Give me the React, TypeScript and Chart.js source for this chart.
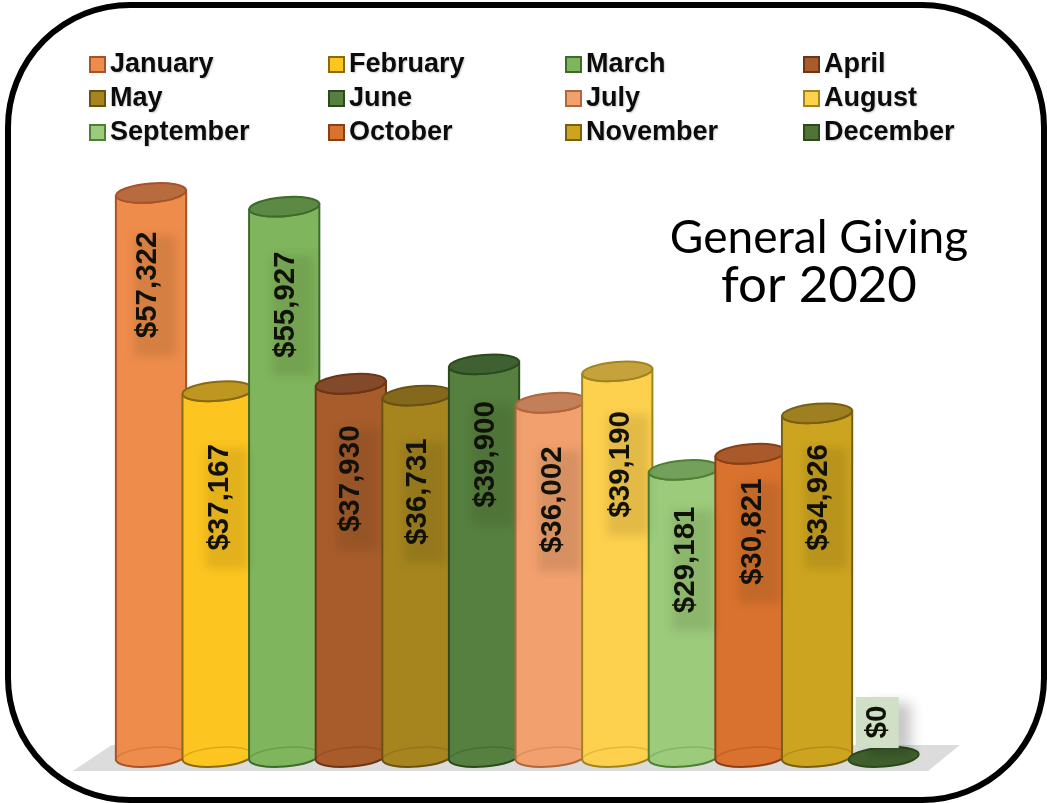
import React, { useEffect, useRef } from "react";
import { Chart, registerables } from "chart.js";

Chart.register(...registerables);

const months = ["January","February","March","April","May","June","July","August","September","October","November","December"];
const giving = [57322,37167,55927,37930,36731,39900,36002,39190,29181,30821,34926,0];
const tickLabels = ["$57,322","$37,167","$55,927","$37,930","$36,731","$39,900","$36,002","$39,190","$29,181","$30,821","$34,926","$0"];
const bodyColors = ["#EE8C4B","#FDC51F","#7FB55C","#A85C2B","#A6851F","#56803F","#F1A06E","#FDD04E","#9CCB7C","#D9722E","#CDA41F","#4F7436"];
const capColors = ["#B86C3E","#BF9620","#5C8A44","#82492A","#84691C","#3F6030","#C27F58","#C6A23C","#73A05B","#A9592A","#9F8020","#3F602E"];
const edgeColors = ["#A8522A","#8A6A10","#3E6A2A","#6E3414","#6A5210","#2C4A1C","#B0673C","#A08420","#4E8034","#8A3F14","#7A5E10","#2C4A1C"];
const titleLines = ["General Giving","for 2020"];

const cylinderPlugin = {
  id: "cylinders",
  beforeDatasetsDraw(chart: any) {
    const { ctx, chartArea: a } = chart;
    const base = chart.scales.y.getPixelForValue(0);
    ctx.save();
    ctx.fillStyle = "#DCDCDC";
    ctx.beginPath();
    ctx.moveTo(a.left - 6, base - 12);
    ctx.lineTo(a.right + 43, base - 12);
    ctx.lineTo(a.right + 11, base + 14);
    ctx.lineTo(a.left - 45, base + 14);
    ctx.closePath();
    ctx.fill();
    ctx.restore();
  },
  afterDatasetsDraw(chart: any) {
    const { ctx } = chart;
    const meta = chart.getDatasetMeta(0);
    const tilt = -0.08;
    meta.data.forEach((bar: any, i: number) => {
      const rx = bar.width / 2;
      const ry = 9.5;
      const { x, y, base } = bar;
      const dy = Math.sin(tilt) * rx;
      ctx.save();
      ctx.lineWidth = 2;
      ctx.strokeStyle = edgeColors[i];
      if (giving[i] > 0) {
        ctx.beginPath();
        ctx.moveTo(x - rx, y - dy);
        ctx.lineTo(x - rx, base - dy);
        ctx.ellipse(x, base, rx, ry, tilt, Math.PI, 0, true);
        ctx.lineTo(x + rx, y + dy);
        ctx.ellipse(x, y, rx, ry, tilt, 0, Math.PI, false);
        ctx.closePath();
        ctx.fillStyle = bodyColors[i];
        ctx.fill();
        ctx.stroke();
        ctx.globalAlpha = 0.3;
        ctx.lineWidth = 1.5;
        ctx.beginPath();
        ctx.ellipse(x, base, rx, ry, tilt, Math.PI, 0, false);
        ctx.stroke();
        ctx.globalAlpha = 1;
        ctx.lineWidth = 2;
      }
      ctx.beginPath();
      ctx.ellipse(x, y, rx, ry, tilt, 0, Math.PI * 2);
      ctx.fillStyle = capColors[i];
      ctx.fill();
      ctx.stroke();
      ctx.restore();
    });
    const offsets = [92, 106, 98, 95, 96, 90, 97, 93, 90, 78, 84, -35];
    const shifts = [-3, 2, 2, 0, 0, 2, 2, 4, 2, 2, 2, -6];
    meta.data.forEach((bar: any, i: number) => {
      const cx = bar.x + shifts[i];
      const cy = bar.y + offsets[i];
      const text = tickLabels[i];
      ctx.save();
      ctx.font = "bold 29.5px 'Liberation Sans'";
      const w = ctx.measureText(text).width;
      if (giving[i] === 0) {
        ctx.fillStyle = "#CFE0C6";
        ctx.shadowColor = "rgba(0,0,0,0.22)";
        ctx.shadowBlur = 12;
        ctx.shadowOffsetX = 12;
        ctx.shadowOffsetY = 6;
        ctx.fillRect(cx - 22, cy - 25, 43, 51);
      } else {
        ctx.fillStyle = "rgba(30,30,10,0.12)";
        ctx.filter = "blur(5px)";
        ctx.fillRect(cx - 14, cy - w / 2 + 4, 42, w + 14);
        ctx.filter = "none";
      }
      ctx.shadowColor = "transparent";
      ctx.translate(cx, cy);
      ctx.rotate(-Math.PI / 2);
      ctx.textAlign = "center";
      ctx.textBaseline = "middle";
      ctx.fillStyle = "#111108";
      ctx.fillText(text, 0, 0);
      ctx.restore();
    });
  },
  afterDraw(chart: any) {
    const { ctx } = chart;
    // legend
    const colX = [90, 329, 566, 804];
    const rowY = [64, 98, 132];
    ctx.save();
    ctx.font = "bold 27px 'Liberation Sans'";
    ctx.textBaseline = "middle";
    months.forEach((m, i) => {
      const x = colX[i % 4];
      const y = rowY[Math.floor(i / 4)];
      ctx.fillStyle = bodyColors[i];
      ctx.strokeStyle = edgeColors[i];
      ctx.lineWidth = 2;
      ctx.fillRect(x, y - 7, 15, 15);
      ctx.strokeRect(x, y - 7, 15, 15);
      ctx.save();
      ctx.shadowColor = "rgba(0,0,0,0.2)";
      ctx.shadowBlur = 2;
      ctx.shadowOffsetX = 1;
      ctx.shadowOffsetY = 1;
      ctx.fillStyle = "#0C0C0C";
      ctx.fillText(m, x + 20, y + 1);
      ctx.restore();
    });
    ctx.restore();
    // title
    ctx.save();
    ctx.fillStyle = "#000";
    ctx.textAlign = "center";
    ctx.textBaseline = "alphabetic";
    ctx.font = "46px 'Lato'";
    ctx.fillText(titleLines[0], 819, 253);
    ctx.font = "51px 'Lato'";
    ctx.fillText(titleLines[1], 819, 302);
    ctx.restore();
  },
};

export default function App() {
  const ref = useRef<HTMLCanvasElement>(null);
  useEffect(() => {
    document.body.style.margin = "0";
    document.body.style.background = "#fff";
    const chart = new Chart(ref.current!, {
      type: "bar",
      data: {
        labels: months,
        datasets: [{ data: giving, backgroundColor: "rgba(0,0,0,0)", borderWidth: 0, categoryPercentage: 1, barPercentage: 1.055 }],
      },
      options: {
        responsive: false,
        animation: false,
        layout: { padding: { left: 117.7, right: 130, top: 166.6, bottom: 46 } },
        plugins: { legend: { display: false }, title: { display: false }, tooltip: { enabled: false } },
        scales: {
          x: { display: false },
          y: { display: false, min: 0, max: 60000 },
        },
      },
      plugins: [cylinderPlugin],
    } as any);
    return () => chart.destroy();
  }, []);
  return (
    <div style={{ position: "relative", width: 1047, height: 803, overflow: "hidden", background: "#fff" }}>
      <canvas ref={ref} width={1047} height={803} style={{ display: "block" }} />
      <div style={{ position: "absolute", left: 5, top: 2, width: 1042, height: 801, boxSizing: "border-box", border: "6px solid #000", borderRadius: 125, pointerEvents: "none" }} />
    </div>
  );
}
